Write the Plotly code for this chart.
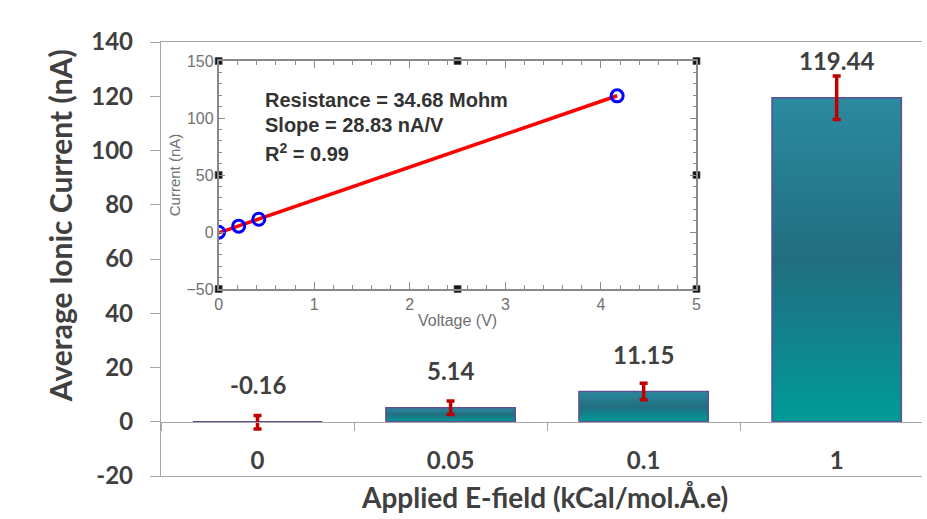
import plotly.graph_objects as go

# Average ionic current per applied field
fields = ["0", "0.05", "0.1", "1"]
current = [-0.16, 5.14, 11.15, 119.44]
current_err = [2.5, 2.5, 3.0, 8.0]

# I-V data for the inset (voltage across the box for each field)
voltage = [0.0, 0.21, 0.42, 4.17]
slope = 28.83
resistance = 34.68
r_squared = 0.99

y_ticks = [-20, 0, 20, 40, 60, 80, 100, 120, 140]

W, H = 927, 519
BAR_W = 0.67
X_RANGE = [-0.5, 3.442]
TEXT = "#404040"
AXIS = "#A6A6A6"
bar_scale = [[0.0, "#009A98"], [0.5, "#216E80"], [1.0, "#2B8A9F"]]

fig = go.Figure()

# bars with a vertical gradient fill
for i, v in enumerate(current):
    x0, x1 = i - BAR_W / 2, i + BAR_W / 2
    fig.add_trace(go.Scatter(
        x=[x0, x1, x1, x0, x0], y=[0, 0, v, v, 0],
        mode="lines", fill="toself",
        fillgradient=dict(type="vertical", colorscale=bar_scale),
        line=dict(color="#5E4F92", width=1.5),
        hoverinfo="skip", showlegend=False, xaxis="x", yaxis="y"))

# error bars on the category axis drawn along y = 0
fig.add_trace(go.Scatter(
    x=fields, y=current, mode="markers",
    marker=dict(size=1, color="rgba(0,0,0,0)"),
    error_y=dict(type="data", array=current_err, color="#C00000",
                 thickness=3.5, width=4),
    showlegend=False, xaxis="x2", yaxis="y"))

# value labels
annotations = []
for i, v in enumerate(current):
    annotations.append(dict(
        x=i, y=max(v, 0), xref="x", yref="y", text=f"{v:.2f}",
        showarrow=False, xanchor="center", yanchor="middle", yshift=37,
        font=dict(family="Lato", size=24, color=TEXT, weight="bold")))

# inset: I-V fit
fit_x = [0.0, voltage[-1]]
mean_x = sum(voltage) / len(voltage)
mean_y = sum(current) / len(current)
intercept = mean_y - slope * mean_x
fit_y = [slope * x + intercept for x in fit_x]
fig.add_trace(go.Scatter(
    x=fit_x, y=fit_y, mode="lines", line=dict(color="#FF0000", width=3.5),
    showlegend=False, xaxis="x3", yaxis="y3"))
fig.add_trace(go.Scatter(
    x=voltage, y=current, mode="markers",
    marker=dict(symbol="circle-open", size=12, color="#0000FF",
                line=dict(width=3, color="#0000FF")),
    showlegend=False, xaxis="x3", yaxis="y3"))

# selection handles on the inset frame
ix, iy = [0, 5], [-50, 150]
hx, hy = [], []
for a in range(3):
    for b in range(3):
        if a == 1 and b == 1:
            continue
        hx.append(ix[0] + a * (ix[1] - ix[0]) / 2)
        hy.append(iy[0] + b * (iy[1] - iy[0]) / 2)
fig.add_trace(go.Scatter(
    x=hx, y=hy, mode="markers", cliponaxis=False,
    marker=dict(symbol="square", size=7, color="#151515",
                line=dict(width=0.8, color="#555")),
    showlegend=False, xaxis="x3", yaxis="y3"))

fig.add_shape(type="rect", xref="x3 domain", yref="y3 domain",
              x0=0, x1=1, y0=0, y1=1, fillcolor="#FDF0DA",
              line=dict(width=0), layer="below")

inset_lines = [
    (f"Resistance = {resistance:.2f} Mohm", 100),
    (f"Slope = {slope:.2f} nA/V", 125),
    (f"R<sup>2</sup> = {r_squared:.2f}", 153),
]
mt, mb, ml = 42, 43, 161
ph, pw = H - mt - mb, W - ml
for txt, ypx in inset_lines:
    annotations.append(dict(
        x=(264 - ml) / pw, y=(H - mb - ypx) / ph, xref="paper", yref="paper",
        text=txt, showarrow=False, xanchor="left", yanchor="middle",
        font=dict(family="Liberation Sans", size=20, color="#333333",
                  weight="bold")))

# axis titles
annotations.append(dict(
    x=(59 - ml) / pw, y=(H - mb - 225.5) / ph, xref="paper", yref="paper",
    text="Average Ionic Current (nA)", textangle=-90, showarrow=False,
    xanchor="center", yanchor="middle",
    font=dict(family="Lato", size=30, color=TEXT, weight="bold")))
annotations.append(dict(
    x=(547.5 - ml) / pw, y=(H - mb - 497) / ph, xref="paper", yref="paper",
    text="Applied E-field (kCal/mol.Å.e)", showarrow=False,
    xanchor="center", yanchor="middle",
    font=dict(family="Lato", size=28, color=TEXT, weight="bold")))

inset_tick_font = dict(family="Liberation Sans", size=16, color="#707070")

fig.update_layout(
    width=W, height=H,
    margin=dict(l=ml, r=0, t=mt, b=mb, pad=0),
    paper_bgcolor="white", plot_bgcolor="white",
    showlegend=False,
    annotations=annotations,
    xaxis=dict(range=X_RANGE, showline=True, mirror=True, linecolor=AXIS,
               linewidth=1.3, ticks="", showticklabels=False,
               showgrid=False, zeroline=False, anchor="y"),
    xaxis2=dict(type="category", categoryorder="array", categoryarray=fields,
                range=X_RANGE, overlaying="x", anchor="free",
                position=(0 - y_ticks[0]) / (y_ticks[-1] - y_ticks[0]),
                side="bottom", showline=True, linecolor=AXIS, linewidth=1.3,
                ticks="outside", tickson="boundaries", ticklen=8,
                tickcolor=AXIS, tickwidth=1.3, showgrid=False,
                ticklabelstandoff=17,
                tickfont=dict(family="Lato", size=24, color=TEXT,
                              weight="bold")),
    yaxis=dict(range=[y_ticks[0], y_ticks[-1]], tickvals=y_ticks,
               ticktext=[str(t) for t in y_ticks],
               ticks="outside", ticklen=10, tickcolor=AXIS, tickwidth=1.3,
               showline=True, linecolor=AXIS, linewidth=1.3,
               showgrid=False, zeroline=False, ticklabelstandoff=12,
               tickfont=dict(family="Lato", size=24, color=TEXT,
                             weight="bold")),
    xaxis3=dict(domain=[(219 - ml) / pw, (700 - ml) / pw], anchor="y3",
                range=ix, dtick=1, showline=True, mirror="allticks",
                linecolor="#8A8A8A", linewidth=1.5, ticks="inside",
                ticklen=7, tickcolor="#8A8A8A", tickwidth=1.3,
                minor=dict(ticks="inside", ticklen=4, dtick=0.2,
                           tickcolor="#8A8A8A"),
                showgrid=False, zeroline=False, tickfont=inset_tick_font,
                title=dict(text="Voltage (V)", standoff=3,
                           font=dict(family="Liberation Sans", size=16,
                                     color="#707070"))),
    yaxis3=dict(domain=[(H - mb - 289) / ph, (H - mb - 61) / ph],
                anchor="x3", range=iy, dtick=50, showline=True,
                mirror="allticks", linecolor="#8A8A8A", linewidth=1.5,
                ticks="inside", ticklen=7, tickcolor="#8A8A8A", tickwidth=1.3,
                minor=dict(ticks="inside", ticklen=4, dtick=10,
                           tickcolor="#8A8A8A"),
                showgrid=False, zeroline=False, tickfont=inset_tick_font,
                title=dict(text="Current (nA)", standoff=2,
                           font=dict(family="Liberation Sans", size=15,
                                     color="#707070"))),
)

fig.write_html("out.html")
